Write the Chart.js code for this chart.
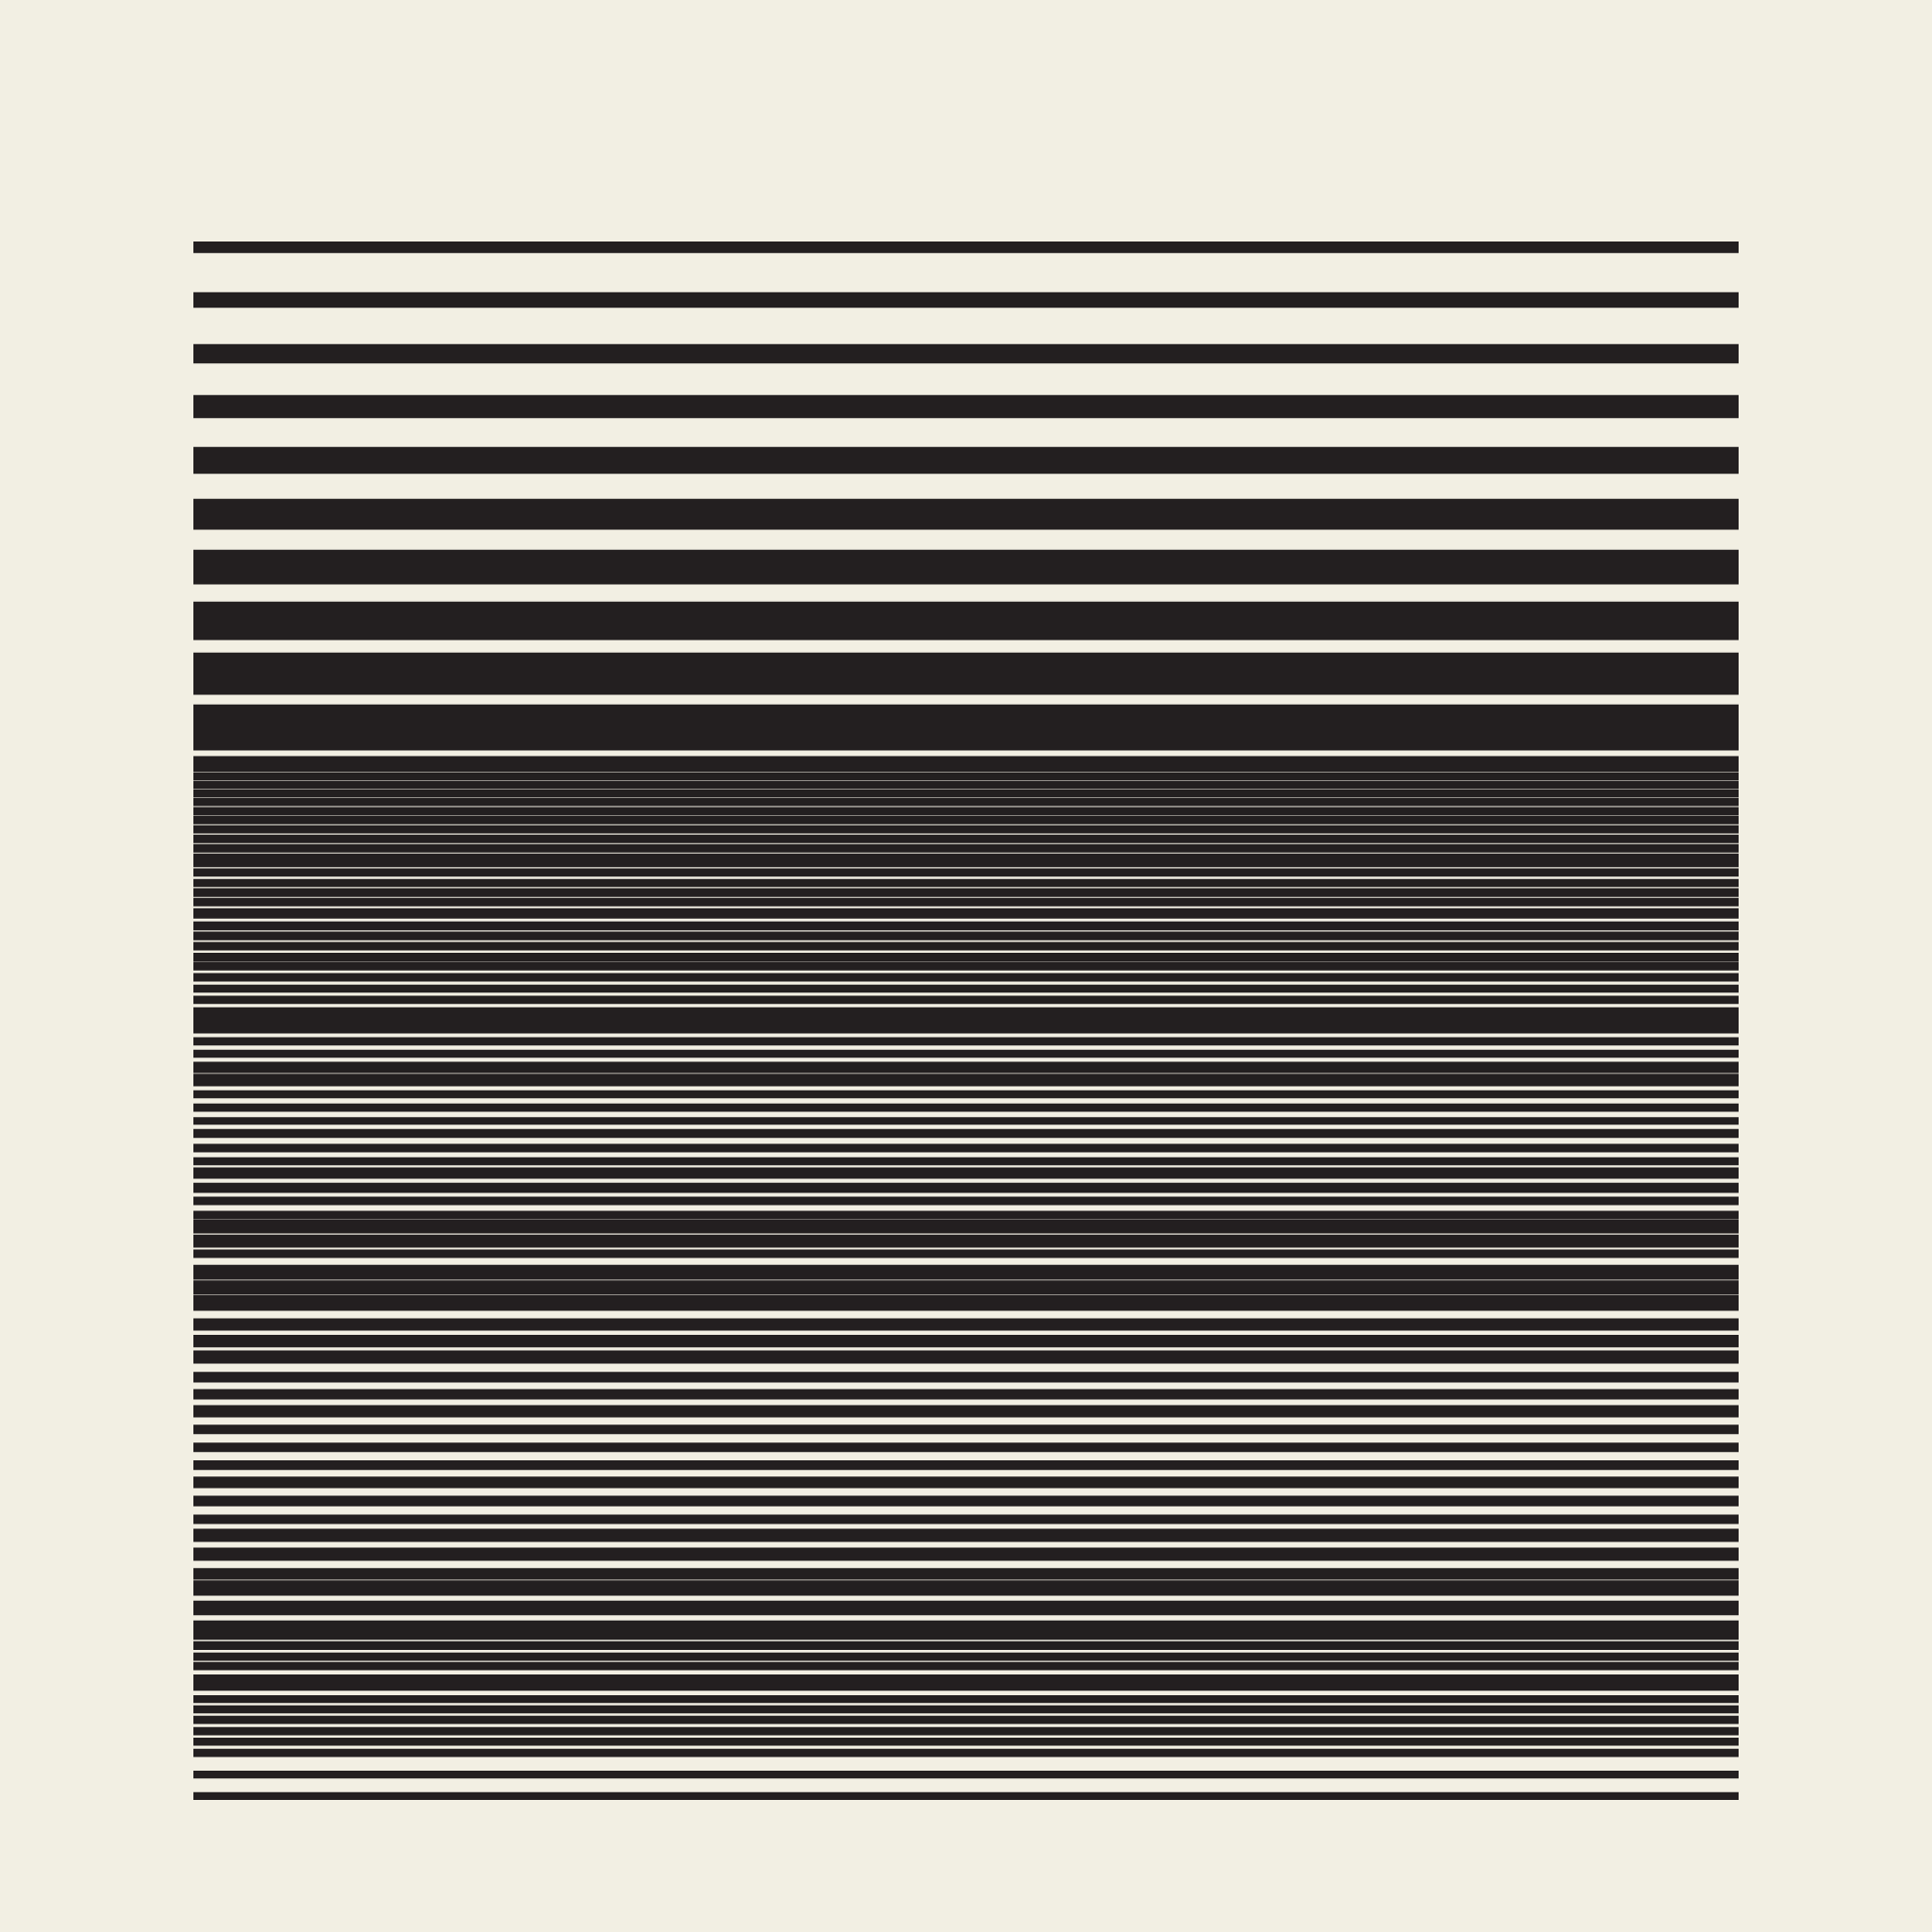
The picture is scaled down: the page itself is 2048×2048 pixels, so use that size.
<!DOCTYPE html>
<html>
<head>
<meta charset="utf-8">
<script src="https://cdn.jsdelivr.net/npm/chart.js@4/dist/chart.umd.min.js"></script>
<style>
  html, body { margin: 0; padding: 0; background: #F2EFE3; }
  #wrap { width: 2048px; height: 2048px; position: relative; }
</style>
</head>
<body>
<div id="wrap"><canvas id="c"></canvas></div>
<script>
// Single category; the column is built from alternating spaces and stripes (top to bottom)
const categories = [""];
// space before each stripe
const gaps = [
  0, 42, 39, 34, 31, 27, 22, 19, 14, 11,
  6.7, 1.3, 1.3, 1.3, 1.3, 1.7, 1.3, 1.7, 2, 1.7,
  1.7, 2, 3.3, 2, 1.7, 2.7, 3.7, 2, 2.4, 3.3,
  1, 3.4, 4, 4, 4.3, 4.7, 5.3, 5, 1.3, 5,
  6.3, 6.3, 5.3, 7, 6, 3, 5, 4.7, 6.7, 1,
  2, 2.7, 8, 1.3, 1.3, 8.7, 5, 4, 9.3, 7.7,
  6.7, 8.3, 9.6, 9.3, 7.6, 8.7, 9.4, 5.7, 6.7, 8.3,
  1.3, 5.7, 6, 2, 3.4, 1.7, 5, 5.3, 3, 3,
  3.7, 3, 3.7, 15, 15
];
// thickness of each stripe
const stripes = [
  12, 16, 20, 24, 28, 32, 36, 40, 44, 48,
  16, 7.7, 7.7, 7.7, 8, 8.3, 8, 8, 8.3, 8.3,
  13.7, 8, 7.7, 8.6, 8.3, 10.3, 8.7, 8.6, 8.3, 8.7,
  8.3, 8.3, 7.7, 8, 27, 8, 7.7, 11.3, 12.7, 7.7,
  8, 7.4, 8.7, 8.3, 7.7, 11.3, 10, 8.3, 8.3, 14,
  13, 8.3, 15, 14.4, 16, 12.3, 12.7, 13.3, 10.7, 10.3,
  12.3, 9.4, 9.4, 9.7, 11.7, 10.6, 9.3, 13.3, 13.3, 11.7,
  15.7, 15, 20, 8.6, 8.3, 8.3, 16.7, 7.7, 8, 8.3,
  8.3, 8, 8.3, 7.7, 8
];

const INK = "#231F20";
const datasets = [];
let total = 0;
for (let i = 0; i < stripes.length; i++) {
  datasets.push({ label: "space " + (i + 1), data: [gaps[i]], backgroundColor: "rgba(0,0,0,0)" });
  datasets.push({ label: "stripe " + (i + 1), data: [stripes[i]], backgroundColor: INK });
  total += gaps[i] + stripes[i];
}

new Chart(document.getElementById("c"), {
  type: "bar",
  data: { labels: categories, datasets: datasets },
  options: {
    responsive: true,
    maintainAspectRatio: false,
    devicePixelRatio: 1,
    animation: false,
    layout: { padding: { left: 205, right: 205, top: 256, bottom: 140 } },
    datasets: { bar: { barPercentage: 1, categoryPercentage: 1, borderWidth: 0, borderSkipped: false } },
    plugins: { legend: { display: false }, tooltip: { enabled: false }, title: { display: false } },
    scales: {
      x: { stacked: true, display: false, grid: { display: false } },
      y: { stacked: true, display: false, reverse: true, min: 0, max: total, grid: { display: false } }
    }
  }
});
</script>
</body>
</html>
